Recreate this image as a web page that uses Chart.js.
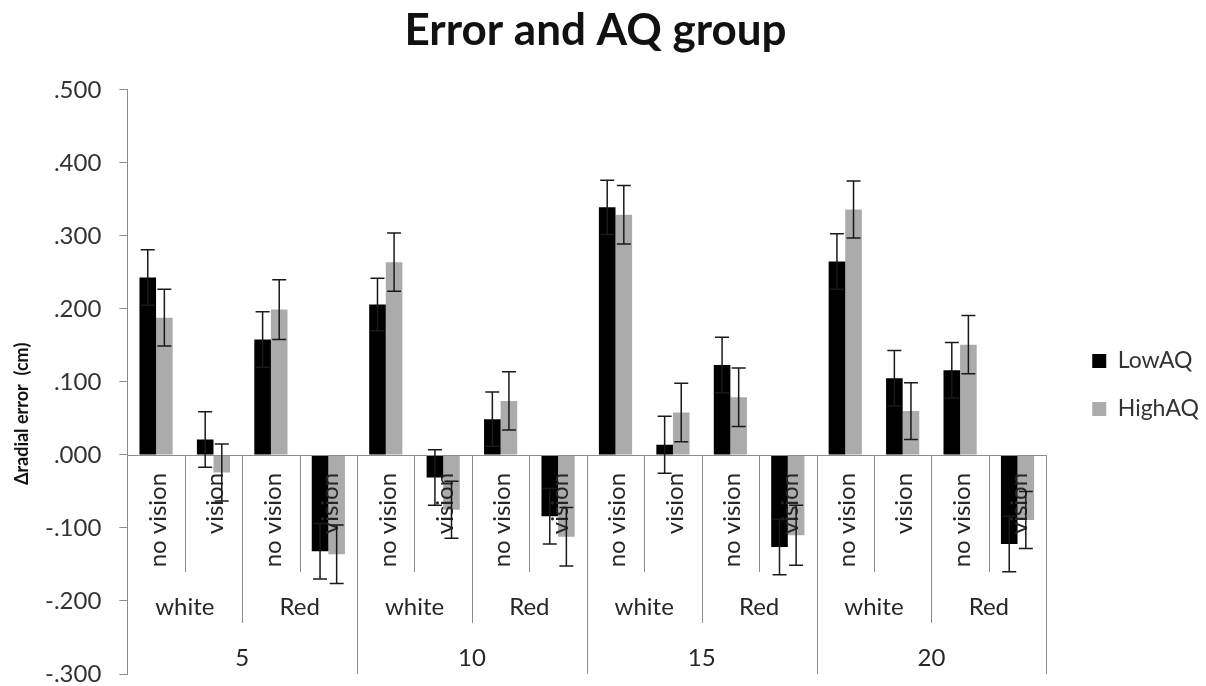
<!DOCTYPE html>
<html>
<head>
<meta charset="utf-8">
<script src="https://cdn.jsdelivr.net/npm/chart.js@4.4.0/dist/chart.umd.min.js"></script>
<style>
body { margin: 0; background: #fff; }
#wrap { width: 1206px; height: 686px; }
</style>
</head>
<body>
<div id="wrap"><canvas id="myChart"></canvas></div>
<script>
var distances = ['5', '10', '15', '20'];
var colours = ['white', 'Red'];
var conditions = ['no vision', 'vision'];

var lowAQ = [0.243, 0.021, 0.158, -0.132, 0.206, -0.031, 0.049, -0.084,
             0.339, 0.014, 0.123, -0.126, 0.265, 0.105, 0.116, -0.122];
var highAQ = [0.188, -0.024, 0.199, -0.136, 0.264, -0.075, 0.074, -0.112,
              0.329, 0.058, 0.079, -0.110, 0.336, 0.060, 0.151, -0.089];
var lowAQErr = [0.038, 0.038, 0.038, 0.038, 0.036, 0.038, 0.037, 0.038,
                0.037, 0.039, 0.038, 0.038, 0.038, 0.038, 0.038, 0.038];
var highAQErr = [0.039, 0.039, 0.041, 0.040, 0.040, 0.039, 0.040, 0.040,
                 0.040, 0.040, 0.040, 0.041, 0.039, 0.039, 0.040, 0.039];

// every bar gets [condition, colour, distance]
var xLabels = [];
distances.forEach(function (d) {
	colours.forEach(function (c) {
		conditions.forEach(function (v) {
			xLabels.push([v, c, d]);
		});
	});
});

var LINE = '#8c8c8c';
var TEXT = '#262626';
var FONT = 'Lato';

function fmt(v) {
	return v.toFixed(3).replace('0.', '.');
}

// category axis sits on the zero line, drawn by hand in three levels
var axisLabels = {
	id : 'axisLabels',
	afterDatasetsDraw : function (chart) {
		var ctx = chart.ctx, x = chart.scales.x, y = chart.scales.y, area = chart.chartArea;
		var y0 = y.getPixelForValue(0);
		var n = chart.data.labels.length;
		var step = x.getPixelForValue(1) - x.getPixelForValue(0);
		ctx.save();
		ctx.strokeStyle = LINE;
		ctx.lineWidth = 1;
		ctx.beginPath();
		ctx.moveTo(area.left, Math.round(y0) + 0.5);
		ctx.lineTo(area.right, Math.round(y0) + 0.5);
		ctx.stroke();
		for (var k = 1; k <= n; k++) {
			var bx = Math.round(x.getPixelForValue(k - 1) + step / 2) + 0.5;
			var end = k % 4 === 0 ? area.bottom : (k % 2 === 0 ? y0 + 168 : y0 + 117);
			ctx.beginPath();
			ctx.moveTo(bx, y0);
			ctx.lineTo(bx, end);
			ctx.stroke();
		}

		ctx.fillStyle = TEXT;
		ctx.font = '24px ' + FONT;
		chart.data.labels.forEach(function (lab, i) {
			var cx = x.getPixelForValue(i);
			ctx.save();
			ctx.translate(cx + 2, y0 + 18);
			ctx.rotate(-Math.PI / 2);
			ctx.textAlign = 'right';
			ctx.textBaseline = 'middle';
			ctx.fillText(lab[0], 0, 0);
			ctx.restore();
			ctx.textAlign = 'center';
			ctx.textBaseline = 'middle';
			if (i % 2 === 0) ctx.fillText(lab[1], cx + step / 2, y0 + 152);
			if (i % 4 === 0) ctx.fillText(lab[2], cx + step * 1.5, y0 + 203);
		});

		// error bars
		ctx.strokeStyle = '#1a1a1a';
		ctx.lineWidth = 1.5;
		chart.data.datasets.forEach(function (ds, d) {
			chart.getDatasetMeta(d).data.forEach(function (bar, i) {
				var top = y.getPixelForValue(ds.data[i] + ds.errors[i]);
				var bot = y.getPixelForValue(ds.data[i] - ds.errors[i]);
				ctx.beginPath();
				ctx.moveTo(bar.x, top);
				ctx.lineTo(bar.x, bot);
				ctx.moveTo(bar.x - 7, top);
				ctx.lineTo(bar.x + 7, top);
				ctx.moveTo(bar.x - 7, bot);
				ctx.lineTo(bar.x + 7, bot);
				ctx.stroke();
			});
		});

		// y axis title
		ctx.save();
		ctx.translate(22, (area.top + area.bottom) / 2 + 32);
		ctx.rotate(-Math.PI / 2);
		ctx.font = 'bold 18px ' + FONT;
		ctx.textAlign = 'center';
		ctx.textBaseline = 'middle';
		ctx.fillStyle = '#111';
		ctx.fillText('\u0394radial error  (cm)', 0, 0);
		ctx.restore();
		ctx.restore();
	}
};

// nudge legend and title to where the original has them
var nudge = {
	id : 'nudge',
	afterLayout : function (chart) {
		chart.legend.left += 21;
		chart.legend.right += 21;
		chart.legend.top += 42;
		chart.legend.bottom += 42;
		chart.titleBlock.left -= 12;
		chart.titleBlock.right -= 12;
	}
};

var mixedChart = new Chart('myChart', {
	type : 'bar',
	data : {
		labels : xLabels,
		datasets : [ {
			label : 'LowAQ',
			data : lowAQ,
			errors : lowAQErr,
			backgroundColor : '#000000'
		}, {
			label : 'HighAQ',
			data : highAQ,
			errors : highAQErr,
			backgroundColor : '#ababab'
		} ]
	},
	options : {
		responsive : true,
		maintainAspectRatio : false,
		animation : false,
		datasets : {
			bar : {
				categoryPercentage : 0.578,
				barPercentage : 1.0,
				borderWidth : 0
			}
		},
		layout : {
			padding : { left : 27, right : 18, top : 0, bottom : 0 }
		},
		scales : {
			x : { display : false },
			y : {
				min : -0.3,
				max : 0.5,
				// tick padding would otherwise be added below the last label
				afterFit : function (scale) {
					scale.paddingBottom = 12;
				},
				ticks : {
					stepSize : 0.1,
					padding : 18,
					color : '#333',
					font : { family : FONT, size : 24, lineHeight : 1 },
					callback : function (v) { return fmt(v); }
				},
				grid : { drawOnChartArea : false, tickLength : 8, color : LINE },
				border : { color : LINE }
			}
		},
		plugins : {
			title : {
				display : true,
				text : 'Error and AQ group',
				color : '#111',
				font : { family : FONT, size : 44, weight : 'bold' },
				padding : { top : 4, bottom : 33 }
			},
			legend : {
				position : 'right',
				labels : {
					color : '#333',
					font : { family : FONT, size : 23 },
					boxWidth : 14,
					boxHeight : 14,
					padding : 25
				}
			},
			tooltip : { enabled : false }
		}
	},
	plugins : [ axisLabels, nudge ]
});
</script>
</body>
</html>
